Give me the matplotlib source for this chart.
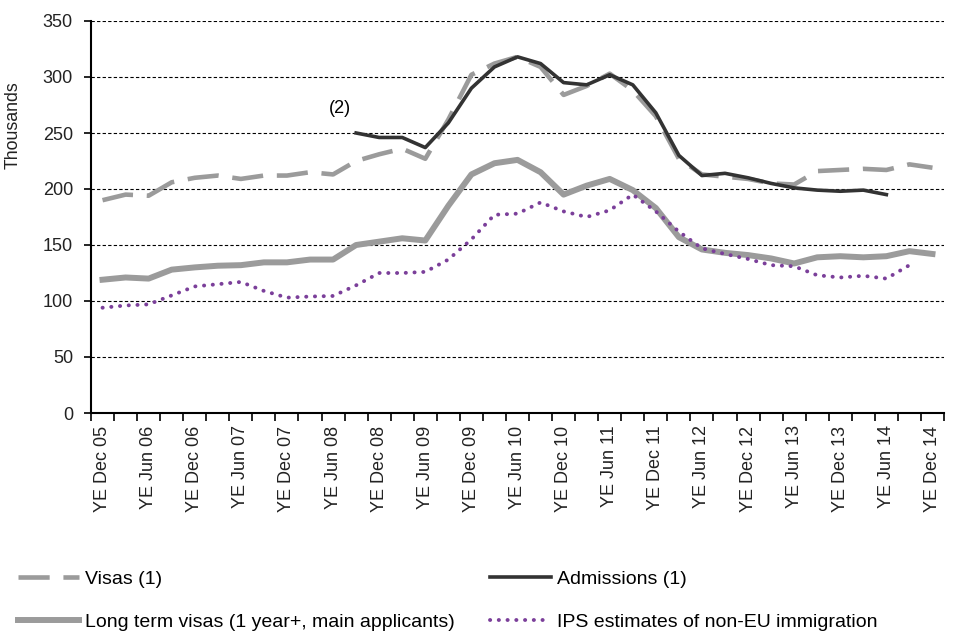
import numpy as np
import matplotlib
matplotlib.use("Agg")
import matplotlib.pyplot as plt

plt.rcParams['font.family'] = ['Liberation Sans', 'DejaVu Sans']

nan = np.nan
quarters = []
for yr in range(5, 15):
    for m in ["Mar", "Jun", "Sep", "Dec"]:
        quarters.append(f"YE {m} {yr:02d}")
quarters = quarters[quarters.index("YE Dec 05"):quarters.index("YE Dec 14") + 1]

visas = [190, 195, 194, 206, 210, 212, 209, 212, 212, 215, 213, 225, 231, 236, 227,
         262, 302, 312, 318, 309, 284, 292, 303, 288, 265, 227, 213, 211, 209, 205,
         204, 216, 217, 218, 217, 222, 219]
admissions = [nan] * 11 + [250, 246, 246, 237, 259, 290, 309, 318, 312, 295, 293, 302,
                           293, 268, 230, 212, 214, 210, 205, 201, 199, 198, 199, 195] + [nan, nan]
long_term = [119, 121, 120, 128, 130, 131.5, 132, 134.5, 134.5, 137, 137, 150, 153, 156, 154,
             185, 213, 223, 226, 215, 195, 203, 209, 199, 183, 157, 146, 143, 141, 138,
             133.5, 139, 140, 139, 140, 144.5, 142]
ips = [94, 96, 97, 105, 113, 115, 117, 109, 103, 104, 104.5, 114, 125, 125, 126,
       137, 155, 177, 178, 188, 180, 175, 181, 195, 180, 162, 147, 142, 137.5, 132,
       131, 123, 121, 122.5, 120, 132, nan]

fig = plt.figure(figsize=(9.6, 6.4), dpi=100)
ax = fig.add_axes([91/960, 1 - 413/640, (944-91)/960, (413-21)/640])

x = np.arange(len(quarters))
gray = '#9b9b9b'
l1, = ax.plot(x, visas, color=gray, lw=3.3, dashes=(6.8, 3), solid_capstyle='butt', label='Visas (1)')
l2, = ax.plot(x, long_term, color=gray, lw=4.3, label='Long term visas (1 year+, main applicants)')
l3, = ax.plot(x, admissions, color='#333333', lw=2.6, label='Admissions (1)')
l4, = ax.plot(x, ips, color='#7b3f9a', lw=2.8, linestyle=(0, (0.05, 2.2)), dash_capstyle='round',
              label='IPS estimates of non-EU immigration')

ax.set_xlim(-0.5, len(quarters) - 0.5)
ax.set_ylim(0, 350)
ax.set_yticks(range(0, 351, 50))
ax.yaxis.grid(True, color='black', linestyle=(0, (3, 2)), lw=0.8)
ax.set_axisbelow(True)
ax.set_xticks(x[::2])
ax.set_xticklabels(quarters[::2], rotation=90, fontsize=13, color='#222222')
ax.set_xticks(np.arange(-0.5, len(quarters), 1), minor=True)
ax.tick_params(axis='x', which='major', length=0, pad=9)
ax.tick_params(axis='x', which='minor', length=6, width=1.2, direction='out', color='black')
ax.tick_params(axis='y', labelsize=13, length=5, width=1.2, pad=8, color='black', labelcolor='#222222')
for s in ['top', 'right']:
    ax.spines[s].set_visible(False)
for s in ['left', 'bottom']:
    ax.spines[s].set_linewidth(1.5)
ax.set_ylabel('Thousands', fontsize=12.8, color='#222222')
ax.yaxis.set_label_coords(-0.081, 0.735)

ax.text(10.3, 272, '(2)', fontsize=13, ha='center', va='center', color='black')

fig.legend(handles=[l1, l2, l3, l4], ncol=2, loc='upper left', bbox_to_anchor=(0.019, 0.1088),
           frameon=False, fontsize=14, handlelength=3.14, handletextpad=0.3,
           columnspacing=1.8, labelspacing=1.3, borderaxespad=0, borderpad=0)

fig.savefig('out.png', dpi=100)
